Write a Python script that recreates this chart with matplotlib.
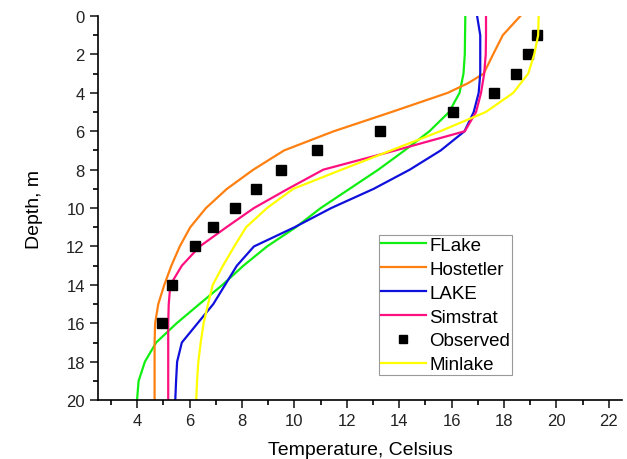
import matplotlib
matplotlib.use("Agg")
import matplotlib.pyplot as plt
from matplotlib.ticker import MultipleLocator

plt.rcParams['font.family'] = ['Liberation Sans', 'DejaVu Sans']

depth = list(range(0, 21))

flake = [16.52, 16.51, 16.50, 16.45, 16.30, 15.90, 15.15, 14.20, 13.20, 12.10, 11.00,
         10.05, 8.95, 8.05, 7.25, 6.37, 5.50, 4.72, 4.29, 4.05, 3.99]

host_depth = [0, 1, 2, 3, 3.5, 4, 5, 6, 7, 8, 9, 10, 11, 12, 13, 14, 15, 16, 17, 18, 19, 20]
hostetler = [18.62, 17.95, 17.58, 17.22, 16.62, 15.85, 13.70, 11.50, 9.60, 8.43, 7.42, 6.62,
             6.02, 5.62, 5.30, 5.03, 4.80, 4.68, 4.66, 4.66, 4.66, 4.66]

lake = [16.97, 17.09, 17.09, 17.09, 17.03, 16.84, 16.49, 15.58, 14.40, 13.02, 11.40,
        10.00, 8.45, 7.80, 7.35, 6.90, 6.30, 5.70, 5.52, 5.48, 5.45]

simstrat = [17.31, 17.31, 17.30, 17.24, 17.12, 16.93, 16.50, 13.85, 11.10, 9.75, 8.45,
            7.40, 6.38, 5.70, 5.26, 5.20, 5.18, 5.18, 5.18, 5.18, 5.18]

minlake = [19.32, 19.30, 19.15, 18.92, 18.35, 17.30, 15.56, 13.68, 11.80, 9.95, 8.95,
           8.15, 7.70, 7.27, 6.88, 6.70, 6.53, 6.42, 6.33, 6.28, 6.25]

obs_depth = [1, 2, 3, 4, 5, 6, 7, 8, 9, 10, 11, 12, 14, 16]
observed = [19.27, 18.92, 18.45, 17.62, 16.06, 13.25, 10.87, 9.50, 8.54, 7.74, 6.90, 6.21, 5.34, 4.95]

fig = plt.figure(figsize=(6.27, 4.60), dpi=100)
ax = fig.add_axes([0.1563, 0.128, 0.8357, 0.835])

lw = 1.6
ax.plot(flake, depth, color='#11ee11', lw=lw, label='FLake')
ax.plot(hostetler, host_depth, color='#ff8010', lw=lw, label='Hostetler')
ax.plot(lake, depth, color='#1010dd', lw=lw, label='LAKE')
ax.plot(simstrat, depth, color='#ff1080', lw=lw, label='Simstrat')
ax.plot(observed, obs_depth, 's', color='black', ms=7, label='Observed')
ax.plot(minlake, depth, color='#ffff00', lw=lw, label='Minlake')

ax.set_xlim(2.5, 22.5)
ax.set_ylim(20, 0)
ax.xaxis.set_major_locator(MultipleLocator(2))
ax.xaxis.set_minor_locator(MultipleLocator(1))
ax.yaxis.set_major_locator(MultipleLocator(2))
ax.yaxis.set_minor_locator(MultipleLocator(1))
ax.set_xticks(range(4, 23, 2))
ax.spines['top'].set_visible(False)
ax.spines['right'].set_visible(False)
for s in ('left', 'bottom'):
    ax.spines[s].set_linewidth(1.2)
ax.tick_params(which='major', direction='out', length=6, width=1.2, labelsize=12, colors='#222222')
ax.tick_params(which='minor', direction='out', length=3.5, width=1.2)

ax.set_xlabel('Temperature, Celsius', fontsize=14, labelpad=9)
ax.set_ylabel('Depth, m', fontsize=14, labelpad=17)

leg = ax.legend(loc='lower left', bbox_to_anchor=(0.536, 0.065), fontsize=13.5,
                frameon=True, fancybox=False, edgecolor='#999999', framealpha=1,
                handlelength=2.4, handletextpad=0.2, labelspacing=0.36,
                borderpad=0.1, borderaxespad=0.0, numpoints=1, markerscale=0.8)
leg.get_frame().set_linewidth(0.8)

fig.savefig('out.png', dpi=100)
